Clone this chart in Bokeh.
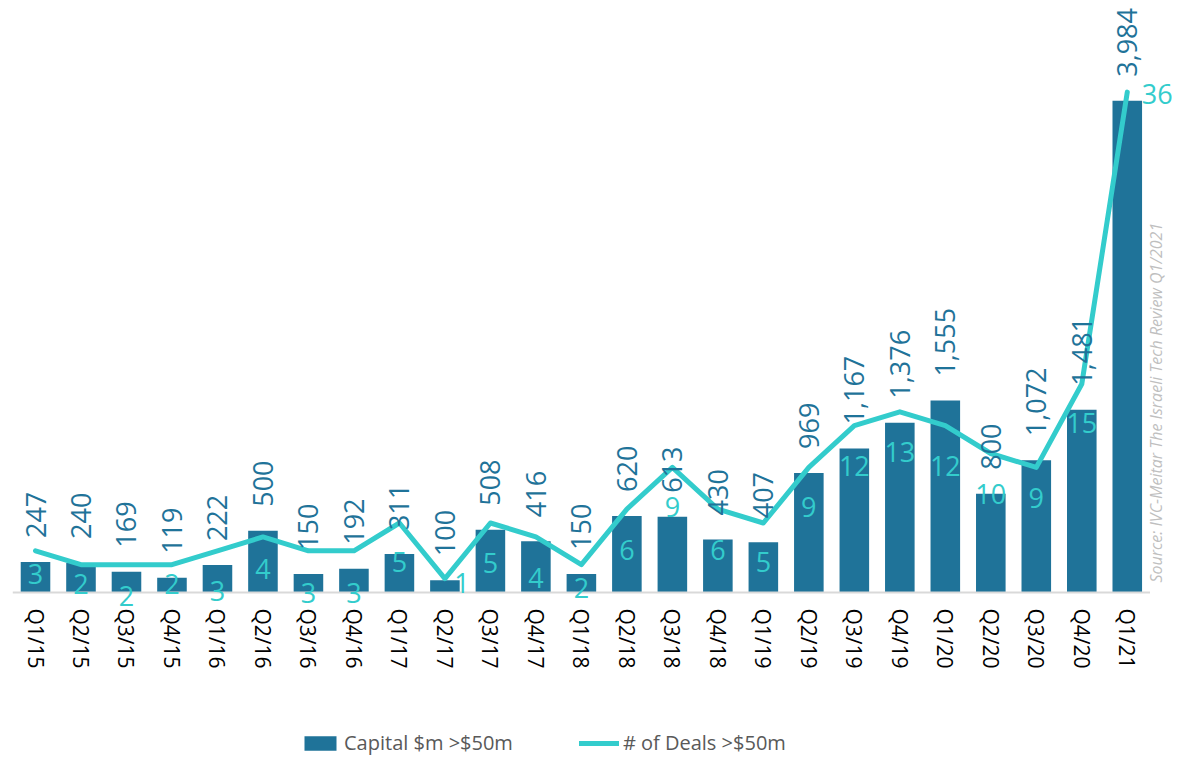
from math import pi
from bokeh.plotting import figure
from bokeh.layouts import column
from bokeh.models import (Range1d, FixedTicker, ColumnDataSource, Legend,
                          LegendItem, Label)
from bokeh.core.properties import value
from bokeh.embed import file_html
from bokeh.resources import INLINE

# ---------------- data ----------------
quarters = ["Q1/15", "Q2/15", "Q3/15", "Q4/15",
            "Q1/16", "Q2/16", "Q3/16", "Q4/16",
            "Q1/17", "Q2/17", "Q3/17", "Q4/17",
            "Q1/18", "Q2/18", "Q3/18", "Q4/18",
            "Q1/19", "Q2/19", "Q3/19", "Q4/19",
            "Q1/20", "Q2/20", "Q3/20", "Q4/20",
            "Q1/21"]
capital = [247, 240, 169, 119, 222, 500, 150, 192, 311, 100, 508, 416, 150,
           620, 613, 430, 407, 969, 1167, 1376, 1555, 800, 1072, 1481, 3984]
deals = [3, 2, 2, 2, 3, 4, 3, 3, 5, 1, 5, 4, 2, 6, 9, 6, 5, 9, 12, 13, 12,
         10, 9, 15, 36]

series_names = ["Capital $m >$50m", "# of Deals >$50m"]
source_note = "Source: IVC-Meitar The Israeli Tech Review Q1/2021"

# ---------------- style (label nudges in px) ----------------
deal_dy = [23, 19, 31, 19, 40, 32, 42, 42, 39, 4, 40, 41, 23, 41, 40, 41, 39,
           40, 40, 40, 40, 40, 31, 39, 2]
deal_dx = [0, 0, 0, 0, 0, 0, 0, 0, 0, 17, 0, 0, 0, 0, 0, 0, 0,
           0, 0, 0, 0, 0, 0, 0, 30]

BAR = "#1F7399"
LINE = "#33CCCC"
FONT = "Open Sans"

xs = list(range(len(quarters)))
src = ColumnDataSource(dict(
    x=xs, capital=capital, deals=deals,
    cap_lbl=[f"{v:,}" for v in capital],
    deal_lbl=[str(v) for v in deals],
    dx=deal_dx, dy=deal_dy,
))

p = figure(width=1178, height=700, output_backend="svg", toolbar_location=None,
           x_range=Range1d(-0.7694, 25.126), y_range=Range1d(-113.4, 4796.6),
           y_axis_location=None,
           min_border_left=0, min_border_right=0, min_border_top=0,
           min_border_bottom=94, outline_line_color=None,
           background_fill_color="white", border_fill_color="white")
p.extra_y_ranges = {"deals": Range1d(-1.007, 42.59)}
p.grid.visible = False

ax = p.xaxis[0]
ax.ticker = FixedTicker(ticks=xs)
ax.major_label_overrides = {i: q for i, q in zip(xs, quarters)}
ax.major_label_orientation = "vertical"
ax.axis_line_color = None
ax.major_tick_line_color = None
ax.minor_tick_line_color = None
ax.major_tick_out = 0
ax.major_tick_in = 0
ax.major_label_standoff = 2
ax.major_label_text_font = FONT
ax.major_label_text_font_size = "21px"
ax.major_label_text_color = "#000000"

bars = p.vbar(x="x", top="capital", width=0.65, source=src,
              fill_color=BAR, line_color=None)
p.line(x=[xs[0] - 0.5, xs[-1] + 0.5], y=[0, 0], line_color="#D9D9D9",
       line_width=2)
ln = p.line(x="x", y="deals", source=src, y_range_name="deals",
            line_color=LINE, line_width=5, line_join="round", line_cap="round")

p.text(x="x", y="capital", text="cap_lbl", source=src, angle=pi / 2,
       text_align="left", text_baseline="middle", y_offset=-24,
       text_font=value(FONT), text_font_size="27px", text_color=BAR)
p.text(x="x", y="deals", text="deal_lbl", source=src, y_range_name="deals",
       x_offset="dx", y_offset="dy", text_align="center",
       text_baseline="middle", text_font=value(FONT),
       text_font_size="27px", text_color=LINE)

p.add_layout(Label(x=1155, y=24, x_units="screen", y_units="screen",
                   text=source_note, angle=pi / 2, text_align="left",
                   text_baseline="middle", text_font=FONT,
                   text_font_style="italic", text_font_size="16px",
                   text_color="#BFBFBF"))

# ---------------- legend strip ----------------
lg = figure(width=1178, height=58, output_backend="svg", toolbar_location=None,
            x_range=Range1d(-1000, -999), y_range=Range1d(-100000, -99999),
            x_axis_location=None, y_axis_location=None,
            min_border_left=0, min_border_right=0, min_border_top=0,
            min_border_bottom=0, outline_line_color=None,
            background_fill_color="white", border_fill_color="white")
lg.grid.visible = False
b2 = lg.vbar(x="x", top="capital", width=0.65, source=src,
             fill_color=BAR, line_color=None)
l2 = lg.line(x="x", y="deals", source=src, line_color=LINE, line_width=5,
             line_cap="round")
legend = Legend(items=[LegendItem(label=series_names[0], renderers=[b2]),
                       LegendItem(label=series_names[1], renderers=[l2])],
                location=(300, 2), orientation="horizontal",
                label_text_font=FONT, label_text_font_size="20px",
                label_text_color="#595959", glyph_width=40, glyph_height=18,
                label_standoff=4, spacing=66, padding=0, margin=0,
                border_line_color=None, background_fill_alpha=0)
lg.add_layout(legend)

layout = column(p, lg, spacing=0)
open("out.html", "w").write(file_html(layout, INLINE))
